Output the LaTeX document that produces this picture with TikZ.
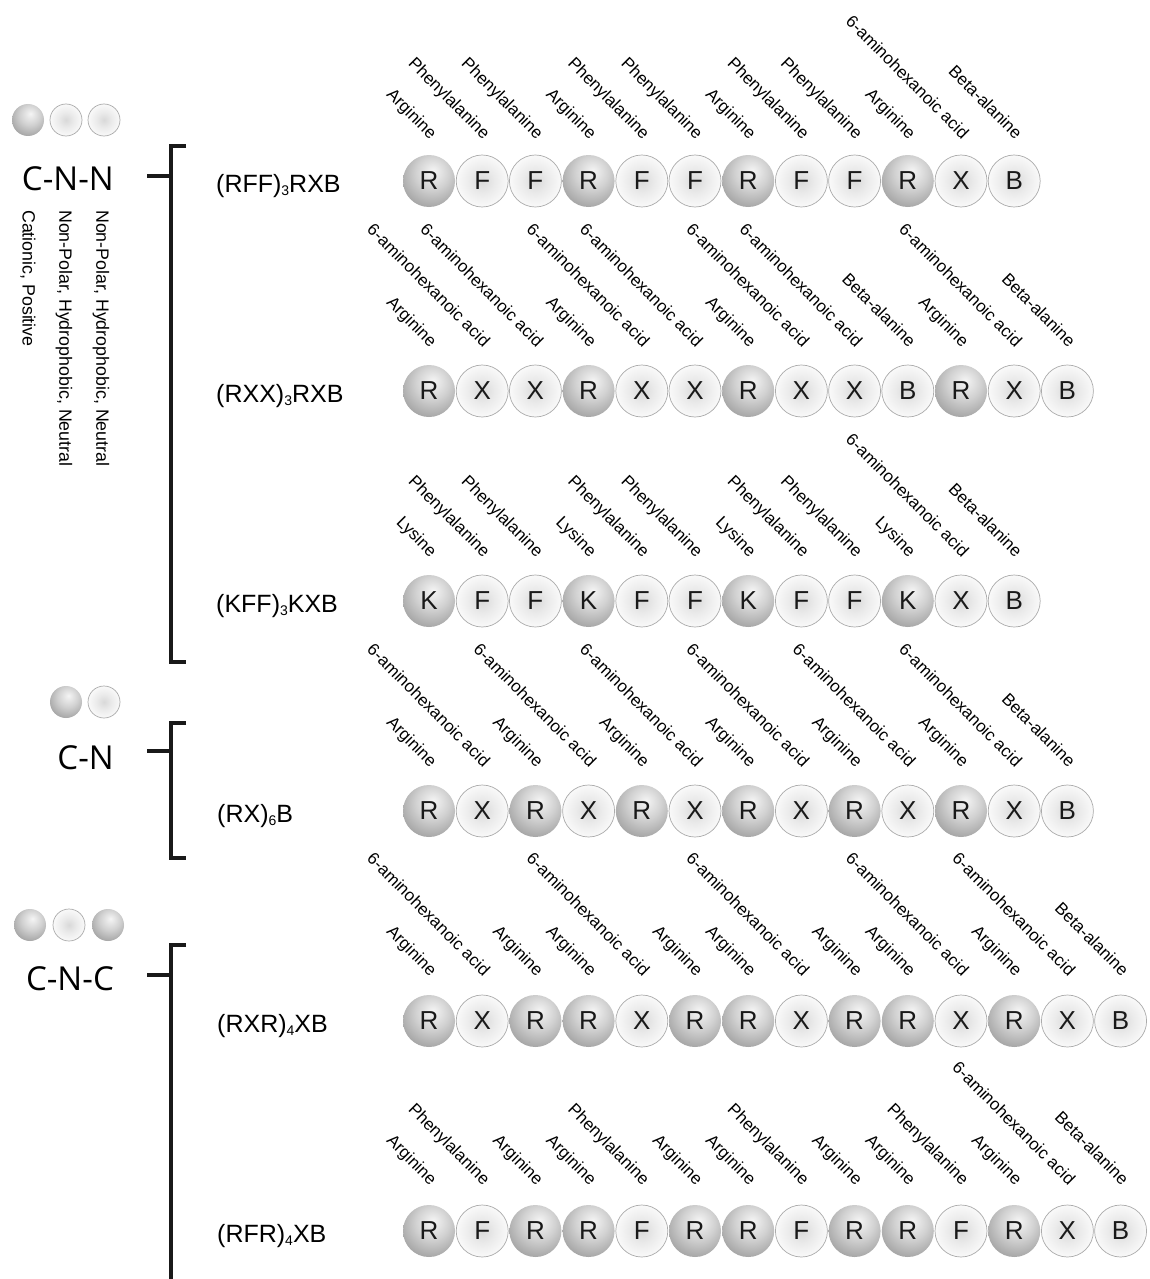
\documentclass[tikz,border=0pt]{standalone}
\usepackage{fontspec}
\setmainfont{Liberation Sans}
\newfontfamily\grpfont{Open Sans}
\pgfdeclareradialshading{darkball}{\pgfpoint{4bp}{10bp}}{color(0bp)=(black!4); color(16bp)=(black!18); color(36bp)=(black!40); color(52bp)=(black!52); color(80bp)=(black!56)}
\pgfdeclareradialshading{lightball}{\pgfpoint{0bp}{0bp}}{color(0bp)=(black!15); color(12bp)=(black!8); color(30bp)=(white); color(80bp)=(white)}
\def\labR{Arginine}
\def\labF{Phenylalanine}
\def\labX{6-aminohexanoic acid}
\def\labB{Beta-alanine}
\def\labK{Lysine}
\newcommand\sub[1]{\raisebox{-3pt}{\fontsize{14}{14}\selectfont #1}}
\newcommand\beadrow[4]{%
  \foreach \ch [count=\i from 0] in {#4} {%
    \node[b\ch] (#1-\i) at ({429+53.2*\i}, #2) {\ch};
    \node[lbl] (#1-l\i) at ({430+53.2*\i}, {#2-#3}) {\csname lab\ch\endcsname};
  }}
\begin{document}
\begin{tikzpicture}[x=1pt,y=-1pt,
  bead/.style={circle, minimum size=52pt, inner sep=0pt, font=\fontsize{26}{26}\selectfont, text=black!90},
  dark/.style={bead, shading=darkball},
  light/.style={bead, shading=lightball, draw=black!33, line width=0.7pt},
  bR/.style={dark}, bK/.style={dark},
  bF/.style={light}, bX/.style={light}, bB/.style={light},
  sdark/.style={circle, minimum size=32pt, inner sep=0pt, shading=darkball},
  slight/.style={circle, minimum size=32pt, inner sep=0pt, shading=lightball, draw=black!33, line width=0.7pt},
  lbl/.style={rotate=-45, anchor=base east, inner sep=0pt, font=\fontsize{17}{17}\selectfont, text=black},
  seq/.style={anchor=base west, inner sep=0pt, font=\fontsize{25}{25}\selectfont, text=black},
  grp/.style={anchor=base east, inner sep=0pt, font=\grpfont\fontsize{33}{33}\selectfont, text=black},
  vtxt/.style={rotate=-90, anchor=west, inner sep=0pt, font=\fontsize{17.8}{17.8}\selectfont, text=black},
  brk/.style={line width=3.2pt, draw=black!90, line cap=butt, line join=miter}]
\useasboundingbox (0,0) rectangle (1149,1279);
\fill[white] (0,0) rectangle (1149,1279);

% ---- group C-N-N ----
\node[sdark] (a1) at (28,120) {};
\node[slight] (a2) at (66,120) {};
\node[slight] (a3) at (104,120) {};
\node[grp] (g1) at (114,190) {C-N-N};
\node[vtxt] (v1) at (28,210) {Cationic, Positive};
\node[vtxt] (v2) at (64,210) {Non-Polar, Hydrophobic, Neutral};
\node[vtxt] (v3) at (101,210) {Non-Polar, Hydrophobic, Neutral};
\coordinate (t1a) at (147,176);
\coordinate (t1b) at (171,176);
\coordinate (k1t) at (186,146);
\coordinate (k1b) at (186,662);
\draw[brk] (t1a) -- (t1b);
\draw[brk] (k1t) -| (171,662) -- (k1b);

% ---- group C-N ----
\node[sdark] (c1) at (66,702) {};
\node[slight] (c2) at (104,702) {};
\node[grp] (g2) at (114,769) {C-N};
\coordinate (t2a) at (147,751);
\coordinate (t2b) at (171,751);
\coordinate (k2t) at (186,723);
\coordinate (k2b) at (186,858);
\draw[brk] (t2a) -- (t2b);
\draw[brk] (k2t) -| (171,858) -- (k2b);

% ---- group C-N-C ----
\node[sdark] (d1) at (30,925) {};
\node[slight] (d2) at (69,925) {};
\node[sdark] (d3) at (108,925) {};
\node[grp] (g3) at (114,990) {C-N-C};
\coordinate (t3a) at (147,975);
\coordinate (t3b) at (171,975);
\coordinate (k3t) at (186,945);
\coordinate (k3e) at (171,1285);
\draw[brk] (t3a) -- (t3b);
\draw[brk] (k3t) -| (k3e);

% ---- sequence labels ----
\node[seq] (s1) at (216,192) {(RFF)\sub{3}RXB};
\node[seq] (s2) at (216,402) {(RXX)\sub{3}RXB};
\node[seq] (s3) at (216,612) {(KFF)\sub{3}KXB};
\node[seq] (s4) at (217,822) {(RX)\sub{6}B};
\node[seq] (s5) at (217,1032) {(RXR)\sub{4}XB};
\node[seq] (s6) at (217,1242) {(RFR)\sub{4}XB};

% ---- bead rows ----
\beadrow{r1}{181}{41}{R,F,F,R,F,F,R,F,F,R,X,B}
\beadrow{r2}{391}{43}{R,X,X,R,X,X,R,X,X,B,R,X,B}
\beadrow{r3}{601}{43}{K,F,F,K,F,F,K,F,F,K,X,B}
\beadrow{r4}{811}{43}{R,X,R,X,R,X,R,X,R,X,R,X,B}
\beadrow{r5}{1021}{44}{R,X,R,R,X,R,R,X,R,R,X,R,X,B}
\beadrow{r6}{1231}{45}{R,F,R,R,F,R,R,F,R,R,F,R,X,B}
\end{tikzpicture}
\end{document}
